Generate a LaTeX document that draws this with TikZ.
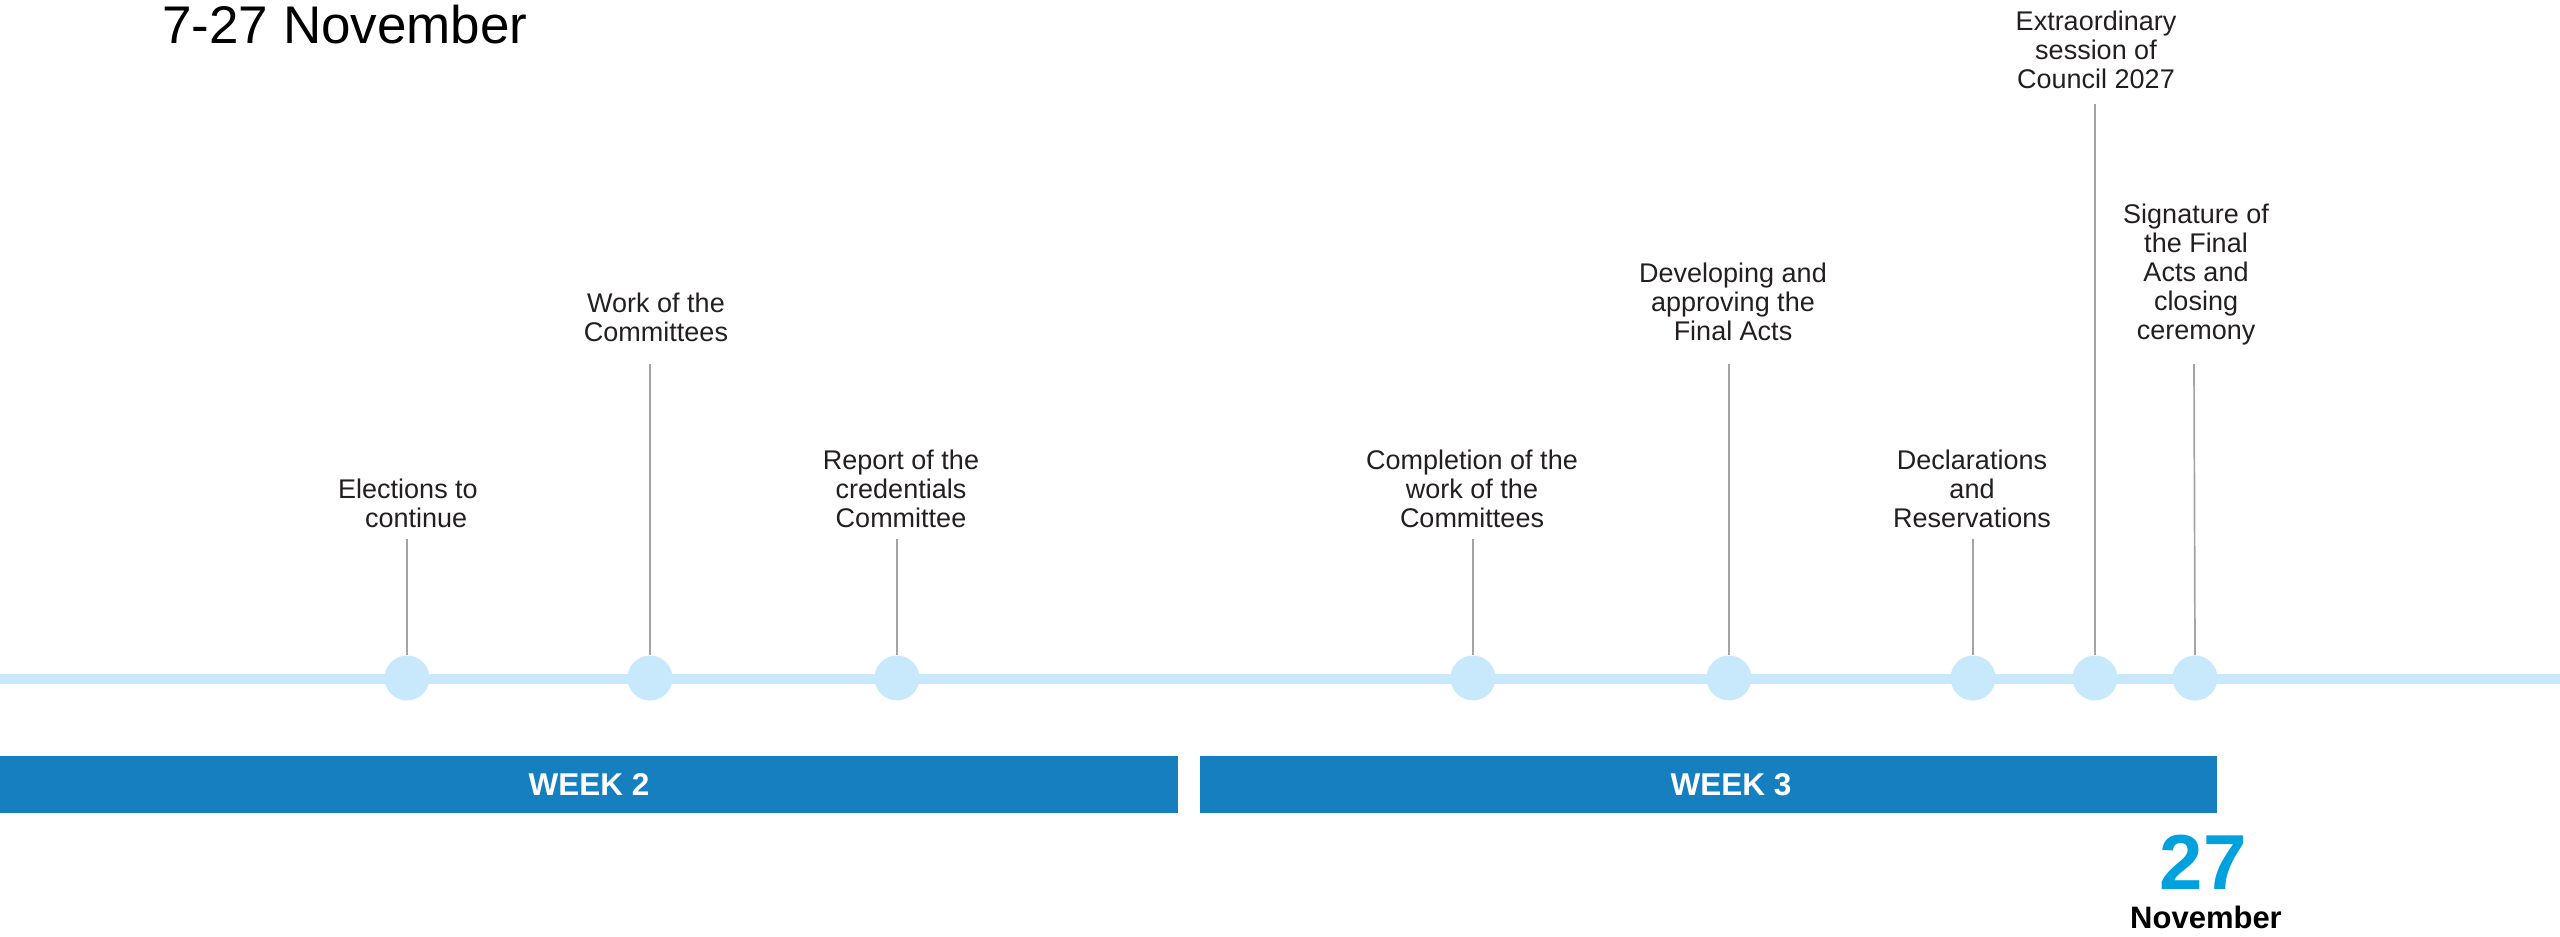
\documentclass[tikz,border=0pt]{standalone}
\usepackage{fontspec}
\setmainfont{Liberation Sans}

\definecolor{tlblue}{RGB}{199,233,251}
\definecolor{stemgrey}{RGB}{163,163,163}
\definecolor{weekblue}{RGB}{21,127,192}
\definecolor{dayblue}{RGB}{0,162,222}
\definecolor{labeltext}{RGB}{35,31,32}

\tikzset{
    daydot/.style={circle, fill=tlblue, inner sep=0pt, minimum size=22.5pt},
    stemline/.style={draw=stemgrey, line width=0.85pt},
    event/.style={align=center, text=labeltext, inner sep=0pt, anchor=base,
        font=\fontsize{13.5}{14.5}\selectfont},
    weeklabel/.style={text=white, inner sep=0pt, anchor=base,
        font=\fontsize{15.75}{18}\bfseries\selectfont},
}

\begin{document}
\begin{tikzpicture}[x=0.5pt, y=-0.5pt]
        \useasboundingbox (0,0) rectangle (2560,937);

        \node[anchor=base west, inner sep=0pt, font=\fontsize{26.5}{30}\selectfont] (title) at (162,43) {7-27 November};

        % timeline
        \coordinate (tlstart) at (0,679);
        \coordinate (tlend) at (2560,679);
        \draw[tlblue, line width=5pt] (tlstart) -- (tlend);

        % event texts
        \node[event] (elec) at (408,527) {Elections to\\\hspace{0.6em}continue};
        \node[event] (work) at (656,341) {Work of the\\Committees};
        \node[event] (report) at (901,527) {Report of the\\credentials\\Committee};
        \node[event] (compl) at (1472,527) {Completion of the\\work of the\\Committees};
        \node[event] (devel) at (1733,340) {Developing and\\approving the\\Final Acts};
        \node[event] (decl) at (1972,527) {Declarations\\and\\Reservations};
        \node[event] (extra) at (2096,88) {Extraordinary\\session of\\Council 2027};
        \node[event] (sign) at (2196,339) {Signature of\\the Final\\Acts and\\closing\\ceremony};

        % stem tops
        \coordinate (selec) at (407,539);
        \coordinate (swork) at (650,364);
        \coordinate (sreport) at (897,539);
        \coordinate (scompl) at (1473,539);
        \coordinate (sdevel) at (1729,364);
        \coordinate (sdecl) at (1973,539);
        \coordinate (sextra) at (2095,104);
        \coordinate (ssign) at (2194,364);

        % dots on the timeline
        \node[daydot] (delec) at (407,678) {};
        \node[daydot] (dwork) at (650,678) {};
        \node[daydot] (dreport) at (897,678) {};
        \node[daydot] (dcompl) at (1473,678) {};
        \node[daydot] (ddevel) at (1729,678) {};
        \node[daydot] (ddecl) at (1973,678) {};
        \node[daydot] (dextra) at (2095,678) {};
        \node[daydot] (dsign) at (2195,678) {};

        \draw[stemline] (selec) -- (delec.north);
        \draw[stemline] (swork) -- (dwork.north);
        \draw[stemline] (sreport) -- (dreport.north);
        \draw[stemline] (scompl) -- (dcompl.north);
        \draw[stemline] (sdevel) -- (ddevel.north);
        \draw[stemline] (sdecl) -- (ddecl.north);
        \draw[stemline] (sextra) -- (dextra.north);
        \draw[stemline] (ssign) -- (dsign.north);

        % weeks
        \fill[weekblue] (0,756) rectangle (1178,813);
        \fill[weekblue] (1200,756) rectangle (2217,813);
        \node[weeklabel] (week2) at (589,795) {WEEK 2};
        \node[weeklabel] (week3) at (1731,795) {WEEK 3};

        % closing day
        \node[anchor=base, inner sep=0pt, text=dayblue, font=\fontsize{39}{40}\bfseries\selectfont] (day) at (2203,889) {27};
        \node[anchor=base, inner sep=0pt, font=\fontsize{15.5}{17}\bfseries\selectfont] (month) at (2206,928) {November};
    \end{tikzpicture}
\end{document}
